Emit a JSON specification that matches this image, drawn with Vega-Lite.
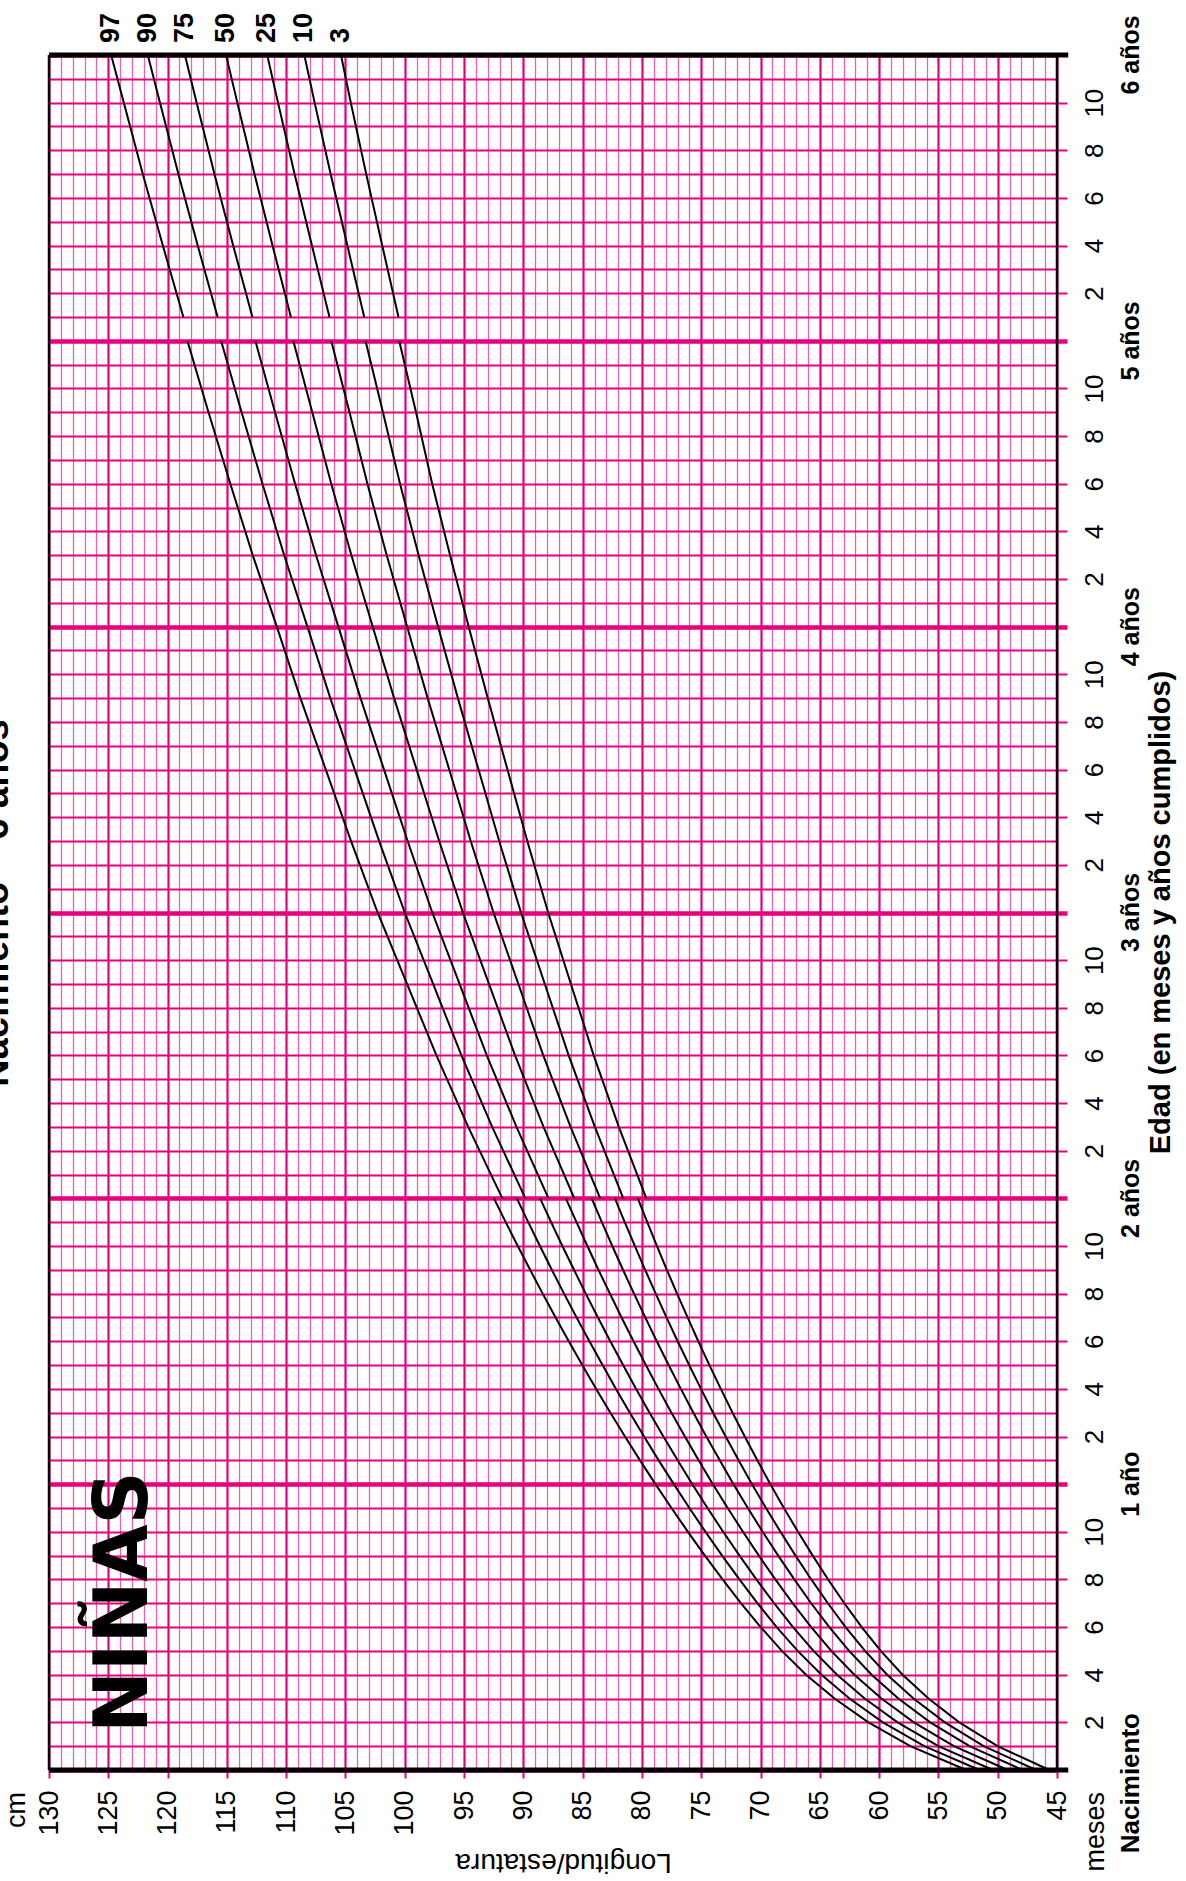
{
  "$schema": "https://vega.github.io/schema/vega-lite/v6.json",
  "width": 1008,
  "height": 1715,
  "autosize": {"type": "none"},
  "padding": {"left": 49, "top": 55, "right": 129, "bottom": 111},
  "background": "white",
  "config": {"view": {"stroke": null}},
  "resolve": {"axis": {"x": "independent", "y": "independent"}},
  "datasets": {
    "one": [{}],
    "curves": [
      {"m":0,"s":"a","p3":45.64,"p10":46.76,"p25":47.89,"p50":49.15,"p75":50.40,"p90":51.54,"p97":52.65},
      {"m":1,"s":"a","p3":50.01,"p10":51.18,"p25":52.37,"p50":53.69,"p75":55.00,"p90":56.19,"p97":57.36},
      {"m":2,"s":"a","p3":53.24,"p10":54.46,"p25":55.69,"p50":57.07,"p75":58.44,"p90":59.68,"p97":60.90},
      {"m":3,"s":"a","p3":55.84,"p10":57.10,"p25":58.38,"p50":59.80,"p75":61.22,"p90":62.50,"p97":63.76},
      {"m":4,"s":"a","p3":58.02,"p10":59.32,"p25":60.63,"p50":62.09,"p75":63.55,"p90":64.86,"p97":66.16},
      {"m":5,"s":"a","p3":59.86,"p10":61.19,"p25":62.53,"p50":64.03,"p75":65.53,"p90":66.87,"p97":68.20},
      {"m":6,"s":"a","p3":61.47,"p10":62.83,"p25":64.20,"p50":65.73,"p75":67.26,"p90":68.64,"p97":69.99},
      {"m":7,"s":"a","p3":62.93,"p10":64.32,"p25":65.73,"p50":67.29,"p75":68.85,"p90":70.25,"p97":71.64},
      {"m":8,"s":"a","p3":64.30,"p10":65.72,"p25":67.15,"p50":68.75,"p75":70.35,"p90":71.78,"p97":73.20},
      {"m":9,"s":"a","p3":65.60,"p10":67.05,"p25":68.51,"p50":70.14,"p75":71.77,"p90":73.24,"p97":74.69},
      {"m":10,"s":"a","p3":66.84,"p10":68.32,"p25":69.82,"p50":71.48,"p75":73.15,"p90":74.64,"p97":76.12},
      {"m":11,"s":"a","p3":68.03,"p10":69.54,"p25":71.07,"p50":72.77,"p75":74.47,"p90":76.00,"p97":77.51},
      {"m":12,"s":"a","p3":69.17,"p10":70.72,"p25":72.28,"p50":74.02,"p75":75.75,"p90":77.31,"p97":78.86},
      {"m":13,"s":"a","p3":70.27,"p10":71.85,"p25":73.44,"p50":75.22,"p75":76.99,"p90":78.59,"p97":80.16},
      {"m":14,"s":"a","p3":71.33,"p10":72.94,"p25":74.57,"p50":76.38,"p75":78.19,"p90":79.82,"p97":81.43},
      {"m":15,"s":"a","p3":72.36,"p10":74.00,"p25":75.66,"p50":77.51,"p75":79.36,"p90":81.02,"p97":82.66},
      {"m":16,"s":"a","p3":73.35,"p10":75.02,"p25":76.72,"p50":78.61,"p75":80.49,"p90":82.19,"p97":83.86},
      {"m":17,"s":"a","p3":74.31,"p10":76.02,"p25":77.75,"p50":79.67,"p75":81.59,"p90":83.32,"p97":85.03},
      {"m":18,"s":"a","p3":75.25,"p10":76.99,"p25":78.75,"p50":80.71,"p75":82.67,"p90":84.43,"p97":86.17},
      {"m":19,"s":"a","p3":76.15,"p10":77.93,"p25":79.72,"p50":81.72,"p75":83.71,"p90":85.51,"p97":87.28},
      {"m":20,"s":"a","p3":77.04,"p10":78.84,"p25":80.67,"p50":82.70,"p75":84.74,"p90":86.57,"p97":88.37},
      {"m":21,"s":"a","p3":77.90,"p10":79.73,"p25":81.60,"p50":83.67,"p75":85.73,"p90":87.60,"p97":89.43},
      {"m":22,"s":"a","p3":78.74,"p10":80.60,"p25":82.50,"p50":84.60,"p75":86.71,"p90":88.60,"p97":90.47},
      {"m":23,"s":"a","p3":79.55,"p10":81.45,"p25":83.38,"p50":85.52,"p75":87.66,"p90":89.59,"p97":91.49},
      {"m":24,"s":"a","p3":80.35,"p10":82.28,"p25":84.24,"p50":86.42,"p75":88.59,"p90":90.55,"p97":92.48},
      {"m":24,"s":"b","p3":79.63,"p10":81.57,"p25":83.52,"p50":85.70,"p75":87.88,"p90":89.83,"p97":91.77},
      {"m":27,"s":"b","p3":81.95,"p10":83.97,"p25":86.02,"p50":88.30,"p75":90.58,"p90":92.63,"p97":94.65},
      {"m":30,"s":"b","p3":84.07,"p10":86.18,"p25":88.32,"p50":90.70,"p75":93.08,"p90":95.22,"p97":97.33},
      {"m":33,"s":"b","p3":85.99,"p10":88.19,"p25":90.42,"p50":92.90,"p75":95.38,"p90":97.61,"p97":99.81},
      {"m":36,"s":"b","p3":87.91,"p10":90.20,"p25":92.52,"p50":95.10,"p75":97.68,"p90":100.00,"p97":102.29},
      {"m":39,"s":"b","p3":89.67,"p10":92.04,"p25":94.44,"p50":97.10,"p75":99.76,"p90":102.16,"p97":104.53},
      {"m":42,"s":"b","p3":91.34,"p10":93.78,"p25":96.25,"p50":99.00,"p75":101.75,"p90":104.22,"p97":106.66},
      {"m":45,"s":"b","p3":93.00,"p10":95.52,"p25":98.07,"p50":100.90,"p75":103.73,"p90":106.28,"p97":108.80},
      {"m":48,"s":"b","p3":94.61,"p10":97.19,"p25":99.80,"p50":102.70,"p75":105.60,"p90":108.21,"p97":110.79},
      {"m":51,"s":"b","p3":96.18,"p10":98.83,"p25":101.52,"p50":104.50,"p75":107.48,"p90":110.17,"p97":112.82},
      {"m":54,"s":"b","p3":97.69,"p10":100.40,"p25":103.15,"p50":106.20,"p75":109.25,"p90":112.00,"p97":114.71},
      {"m":57,"s":"b","p3":99.05,"p10":101.84,"p25":104.66,"p50":107.80,"p75":110.94,"p90":113.76,"p97":116.55},
      {"m":60,"s":"b","p3":100.47,"p10":103.31,"p25":106.20,"p50":109.40,"p75":112.60,"p90":115.49,"p97":118.33},
      {"m":61,"s":"c","p3":100.53,"p10":103.42,"p25":106.35,"p50":109.60,"p75":112.85,"p90":115.78,"p97":118.67},
      {"m":64,"s":"c","p3":101.90,"p10":104.84,"p25":107.83,"p50":111.15,"p75":114.47,"p90":117.46,"p97":120.40},
      {"m":67,"s":"c","p3":103.25,"p10":106.25,"p25":109.29,"p50":112.67,"p75":116.05,"p90":119.09,"p97":122.09},
      {"m":70,"s":"c","p3":104.55,"p10":107.60,"p25":110.69,"p50":114.12,"p75":117.55,"p90":120.64,"p97":123.69},
      {"m":72,"s":"c","p3":105.38,"p10":108.47,"p25":111.60,"p50":115.07,"p75":118.54,"p90":121.67,"p97":124.76}
    ],
    "pctlabels": [
      {"t":"97","cm":124.76},
      {"t":"90","cm":121.67},
      {"t":"75","cm":118.54},
      {"t":"50","cm":115.07},
      {"t":"25","cm":111.60},
      {"t":"10","cm":108.47},
      {"t":"3","cm":105.38}
    ],
    "years": [
      {"m":12,"t":"1 año"},
      {"m":24,"t":"2 años"},
      {"m":36,"t":"3 años"},
      {"m":48,"t":"4 años"},
      {"m":60,"t":"5 años"},
      {"m":72,"t":"6 años"}
    ]
  },
  "layer": [
    {
      "data": {"name": "curves"},
      "transform": [
        {"fold": ["p3","p10","p25","p50","p75","p90","p97"], "as": ["pct","cm"]}
      ],
      "mark": {"type": "line", "color": "black", "strokeWidth": 2, "clip": false},
      "encoding": {
        "x": {
          "field": "cm", "type": "quantitative",
          "scale": {"domain": [45,130], "reverse": true, "nice": false, "zero": false},
          "axis": {
            "orient": "bottom",
            "values": [45,46,47,48,49,50,51,52,53,54,55,56,57,58,59,60,61,62,63,64,65,66,67,68,69,70,71,72,73,74,75,76,77,78,79,80,81,82,83,84,85,86,87,88,89,90,91,92,93,94,95,96,97,98,99,100,101,102,103,104,105,106,107,108,109,110,111,112,113,114,115,116,117,118,119,120,121,122,123,124,125,126,127,128,129,130],
            "grid": true,
            "gridColor": {"condition": {"test": "datum.value % 5 === 0", "value": "#e6007e"}, "value": "#f060b0"},
            "gridWidth": {"condition": {"test": "datum.value % 5 === 0", "value": 2.2}, "value": 1.3},
            "gridOpacity": 1,
            "domain": false,
            "ticks": true,
            "tickSize": 8,
            "tickColor": "#e6007e",
            "tickWidth": 2,
            "tickOpacity": {"condition": {"test": "datum.value % 5 === 0", "value": 1}, "value": 0},
            "labelExpr": "datum.value % 5 === 0 ? datum.label : ''",
            "labelAngle": 270,
            "labelAlign": "right",
            "labelBaseline": "middle",
            "labelPadding": 12,
            "labelFont": "Liberation Sans",
            "labelFontSize": 27,
            "labelColor": "black",
            "labelOverlap": false,
            "labelFlush": false,
            "labelBound": false,
            "title": null
          }
        },
        "y": {
          "field": "m", "type": "quantitative",
          "scale": {"domain": [0,72], "nice": false, "zero": false},
          "axis": {
            "orient": "right",
            "values": [0,1,2,3,4,5,6,7,8,9,10,11,12,13,14,15,16,17,18,19,20,21,22,23,24,25,26,27,28,29,30,31,32,33,34,35,36,37,38,39,40,41,42,43,44,45,46,47,48,49,50,51,52,53,54,55,56,57,58,59,60,61,62,63,64,65,66,67,68,69,70,71,72],
            "grid": true,
            "gridColor": "#e6007e",
            "gridWidth": {"condition": {"test": "datum.value % 12 === 0", "value": 4.5}, "value": 1.8},
            "gridOpacity": 1,
            "domain": false,
            "ticks": true,
            "tickSize": 10,
            "tickColor": "#e6007e",
            "tickWidth": {"condition": {"test": "datum.value % 12 === 0", "value": 4.5}, "value": 2},
            "tickOpacity": {"condition": {"test": "datum.value % 2 === 0 && datum.value > 0 && datum.value < 72", "value": 1}, "value": 0},
            "labelExpr": "(datum.value % 2 === 0 && datum.value % 12 !== 0) ? '' + (datum.value % 12) : ''",
            "labelAngle": 270,
            "labelAlign": "center",
            "labelBaseline": "top",
            "labelPadding": 14,
            "labelFont": "Liberation Sans",
            "labelFontSize": 26,
            "labelColor": "black",
            "labelOverlap": false,
            "labelFlush": false,
            "labelBound": false,
            "title": null
          }
        },
        "detail": [{"field": "pct"}, {"field": "s"}],
        "order": {"field": "m", "type": "quantitative"}
      }
    },
    {
      "data": {"name": "one"},
      "mark": {"type": "rule", "color": "black", "strokeWidth": 2.5},
      "encoding": {
        "x": {"datum": 130, "type": "quantitative", "scale": {"domain": [45,130], "reverse": true, "nice": false, "zero": false}, "axis": null}
      }
    },
    {
      "data": {"name": "one"},
      "mark": {"type": "rule", "color": "black", "strokeWidth": 2.5},
      "encoding": {
        "x": {"datum": 45, "type": "quantitative", "scale": {"domain": [45,130], "reverse": true, "nice": false, "zero": false}, "axis": null}
      }
    },
    {
      "data": {"name": "one"},
      "mark": {"type": "rule", "color": "black", "strokeWidth": 5, "clip": false},
      "encoding": {
        "x": {"datum": 130, "type": "quantitative", "scale": {"domain": [45,130], "reverse": true, "nice": false, "zero": false}, "axis": null},
        "x2": {"datum": 44.05},
        "y": {"datum": 0, "type": "quantitative", "scale": {"domain": [0,72], "nice": false, "zero": false}, "axis": null}
      }
    },
    {
      "data": {"name": "one"},
      "mark": {"type": "rule", "color": "black", "strokeWidth": 5, "clip": false},
      "encoding": {
        "x": {"datum": 130, "type": "quantitative", "scale": {"domain": [45,130], "reverse": true, "nice": false, "zero": false}, "axis": null},
        "x2": {"datum": 44.05},
        "y": {"datum": 72, "type": "quantitative", "scale": {"domain": [0,72], "nice": false, "zero": false}, "axis": null}
      }
    },
    {
      "data": {"name": "pctlabels"},
      "mark": {"type": "text", "angle": 270, "align": "left", "baseline": "middle", "dx": 12, "font": "Liberation Sans", "fontWeight": "bold", "fontSize": 27, "color": "black", "clip": false},
      "encoding": {
        "x": {"field": "cm", "type": "quantitative", "scale": {"domain": [45,130], "reverse": true, "nice": false, "zero": false}, "axis": null},
        "y": {"datum": 72, "type": "quantitative", "scale": {"domain": [0,72], "nice": false, "zero": false}, "axis": null},
        "text": {"field": "t"}
      }
    },
    {
      "data": {"name": "years"},
      "mark": {"type": "text", "angle": 270, "align": "center", "baseline": "middle", "font": "Liberation Sans", "fontWeight": "bold", "fontSize": 25, "color": "black", "clip": false},
      "encoding": {
        "x": {"datum": 38.76, "type": "quantitative", "scale": {"domain": [45,130], "reverse": true, "nice": false, "zero": false}, "axis": null},
        "y": {"field": "m", "type": "quantitative", "scale": {"domain": [0,72], "nice": false, "zero": false}, "axis": null},
        "text": {"field": "t"}
      }
    },
    {
      "data": {"name": "one"},
      "mark": {"type": "text", "angle": 270, "align": "right", "baseline": "middle", "dx": 57, "font": "Liberation Sans", "fontWeight": "bold", "fontSize": 26, "color": "black", "clip": false, "text": "Nacimiento"},
      "encoding": {
        "x": {"datum": 38.76, "type": "quantitative", "scale": {"domain": [45,130], "reverse": true, "nice": false, "zero": false}, "axis": null},
        "y": {"datum": 0, "type": "quantitative", "scale": {"domain": [0,72], "nice": false, "zero": false}, "axis": null}
      }
    },
    {
      "data": {"name": "one"},
      "mark": {"type": "text", "angle": 270, "align": "right", "baseline": "middle", "dx": -22, "font": "Liberation Sans", "fontSize": 27, "color": "black", "clip": false, "text": "meses"},
      "encoding": {
        "x": {"datum": 41.71, "type": "quantitative", "scale": {"domain": [45,130], "reverse": true, "nice": false, "zero": false}, "axis": null},
        "y": {"datum": 0, "type": "quantitative", "scale": {"domain": [0,72], "nice": false, "zero": false}, "axis": null}
      }
    },
    {
      "data": {"name": "one"},
      "mark": {"type": "text", "angle": 270, "align": "right", "baseline": "middle", "dx": -22, "font": "Liberation Sans", "fontSize": 27, "color": "black", "clip": false, "text": "cm"},
      "encoding": {
        "x": {"datum": 132.7, "type": "quantitative", "scale": {"domain": [45,130], "reverse": true, "nice": false, "zero": false}, "axis": null},
        "y": {"datum": 0, "type": "quantitative", "scale": {"domain": [0,72], "nice": false, "zero": false}, "axis": null}
      }
    },
    {
      "data": {"name": "one"},
      "mark": {"type": "text", "angle": 270, "align": "center", "baseline": "middle", "font": "Liberation Sans", "fontWeight": "bold", "fontSize": 29, "color": "black", "clip": false, "text": "Edad (en meses y años cumplidos)"},
      "encoding": {
        "x": {"datum": 36.23, "type": "quantitative", "scale": {"domain": [45,130], "reverse": true, "nice": false, "zero": false}, "axis": null},
        "y": {"datum": 36, "type": "quantitative", "scale": {"domain": [0,72], "nice": false, "zero": false}, "axis": null}
      }
    },
    {
      "data": {"name": "one"},
      "mark": {"type": "text", "angle": 180, "align": "center", "baseline": "middle", "font": "Liberation Sans", "fontSize": 28, "color": "black", "clip": false, "text": "Longitud/estatura"},
      "encoding": {
        "x": {"datum": 86.6, "type": "quantitative", "scale": {"domain": [45,130], "reverse": true, "nice": false, "zero": false}, "axis": null},
        "y": {"datum": -3.87, "type": "quantitative", "scale": {"domain": [0,72], "nice": false, "zero": false}, "axis": null}
      }
    },
    {
      "data": {"name": "one"},
      "mark": {"type": "text", "angle": 270, "align": "center", "baseline": "middle", "font": "DejaVu Sans", "fontWeight": "bold", "fontSize": 74, "color": "black", "clip": false, "text": "NIÑAS"},
      "encoding": {
        "x": {"datum": 123.6, "type": "quantitative", "scale": {"domain": [45,130], "reverse": true, "nice": false, "zero": false}, "axis": null},
        "y": {"datum": 7.05, "type": "quantitative", "scale": {"domain": [0,72], "nice": false, "zero": false}, "axis": null}
      }
    },
    {
      "data": {"name": "one"},
      "mark": {"type": "text", "angle": 270, "align": "center", "baseline": "alphabetic", "font": "Liberation Sans", "fontWeight": "bold", "fontSize": 38, "color": "black", "clip": false, "text": "Nacimiento – 6 años"},
      "encoding": {
        "x": {"datum": 133.45, "type": "quantitative", "scale": {"domain": [45,130], "reverse": true, "nice": false, "zero": false}, "axis": null},
        "y": {"datum": 36.4, "type": "quantitative", "scale": {"domain": [0,72], "nice": false, "zero": false}, "axis": null}
      }
    }
  ]
}
